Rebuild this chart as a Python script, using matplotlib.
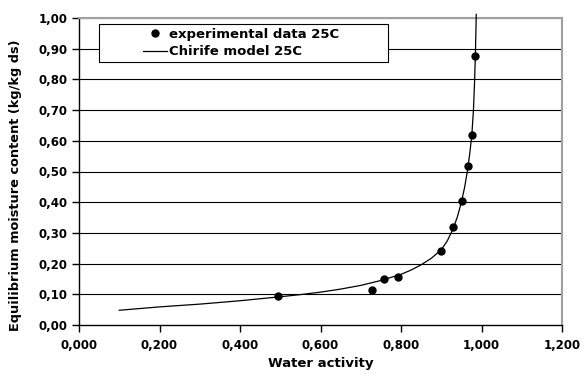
# Sorption isotherm at 25C - experimental points and Chirife model curve

import matplotlib
matplotlib.use('Agg')
import matplotlib.pyplot as plt
from matplotlib.lines import Line2D
from matplotlib.patches import Rectangle

# experimental data 25C (water activity, moisture content kg/kg ds)
aw_exp = [0.494, 0.727, 0.758, 0.792, 0.899, 0.930, 0.951, 0.967, 0.977, 0.984]
x_exp = [0.094, 0.113, 0.150, 0.157, 0.242, 0.319, 0.403, 0.519, 0.618, 0.877]

# Chirife model 25C
aw_mod = [0.10, 0.20, 0.30, 0.40, 0.50, 0.55, 0.60, 0.65, 0.70, 0.75,
          0.80, 0.825, 0.85, 0.875, 0.90, 0.915, 0.93, 0.94, 0.95, 0.958,
          0.965, 0.971, 0.976, 0.980, 0.983, 0.985, 0.986, 0.987]
x_mod = [0.048, 0.059, 0.068, 0.079, 0.092, 0.099, 0.107, 0.117, 0.129, 0.145,
         0.165, 0.179, 0.196, 0.217, 0.245, 0.274, 0.315, 0.352, 0.400, 0.448,
         0.502, 0.560, 0.620, 0.700, 0.800, 0.890, 0.950, 1.012]

xticks = [0.0, 0.2, 0.4, 0.6, 0.8, 1.0, 1.2]
xtick_labels = ['0,000', '0,200', '0,400', '0,600', '0,800', '1,000', '1,200']
yticks = [0.0, 0.1, 0.2, 0.3, 0.4, 0.5, 0.6, 0.7, 0.8, 0.9, 1.0]
ytick_labels = ['0,00', '0,10', '0,20', '0,30', '0,40', '0,50',
                '0,60', '0,70', '0,80', '0,90', '1,00']

plt.rcParams['font.family'] = 'DejaVu Sans'
plt.rcParams['font.weight'] = 'bold'

fig = plt.figure(figsize=(5.84, 3.76), dpi=100)
ax = fig.add_axes([79/584, 51/376, 483/584, 307/376])

ax.set_xlim(0, 1.2)
ax.set_ylim(0, 1.0)

# gridlines
for y in yticks[1:]:
    ax.axhline(y, color='black', lw=0.8, zorder=1)

ax.plot(aw_mod, x_mod, color='black', lw=0.9, zorder=3, clip_on=False)
ax.plot(aw_exp, x_exp, 'o', color='black', markersize=5, zorder=4)

ax.set_xticks(xticks)
ax.set_xticklabels(xtick_labels)
ax.set_yticks(yticks)
ax.set_yticklabels(ytick_labels)
ax.tick_params(axis='both', direction='out', length=5, width=1, labelsize=8.5)
ax.tick_params(axis='x', pad=5)
ax.tick_params(axis='y', pad=3)

for s in ['top', 'right']:
    ax.spines[s].set_color('#a0a0a0')
    ax.spines[s].set_linewidth(1.5)
for s in ['left', 'bottom']:
    ax.spines[s].set_color('black')
    ax.spines[s].set_linewidth(1)

ax.set_xlabel('Water activity', fontsize=9.5, fontweight='bold', labelpad=4)
ax.set_ylabel('Equilibrium moisture content (kg/kg ds)', fontsize=9.3,
              fontweight='bold')
ax.yaxis.set_label_coords(-0.118, 0.456)

# legend box
box = Rectangle((0.042, 0.856), 0.597, 0.124, transform=ax.transAxes,
                facecolor='white', edgecolor='black', lw=0.8, zorder=5)
ax.add_patch(box)
handles = [Line2D([], [], marker='o', color='black', ls='none', markersize=5),
           Line2D([], [], color='black', lw=0.9)]
ax.legend(handles, ['experimental data 25C', 'Chirife model 25C'],
          loc='center', bbox_to_anchor=(0.335, 0.918), frameon=False,
          prop={'size': 9.5, 'weight': 'bold'}, handlelength=1.8,
          handletextpad=0.15, labelspacing=0.35).set_zorder(6)

fig.savefig('out.png', dpi=100)
